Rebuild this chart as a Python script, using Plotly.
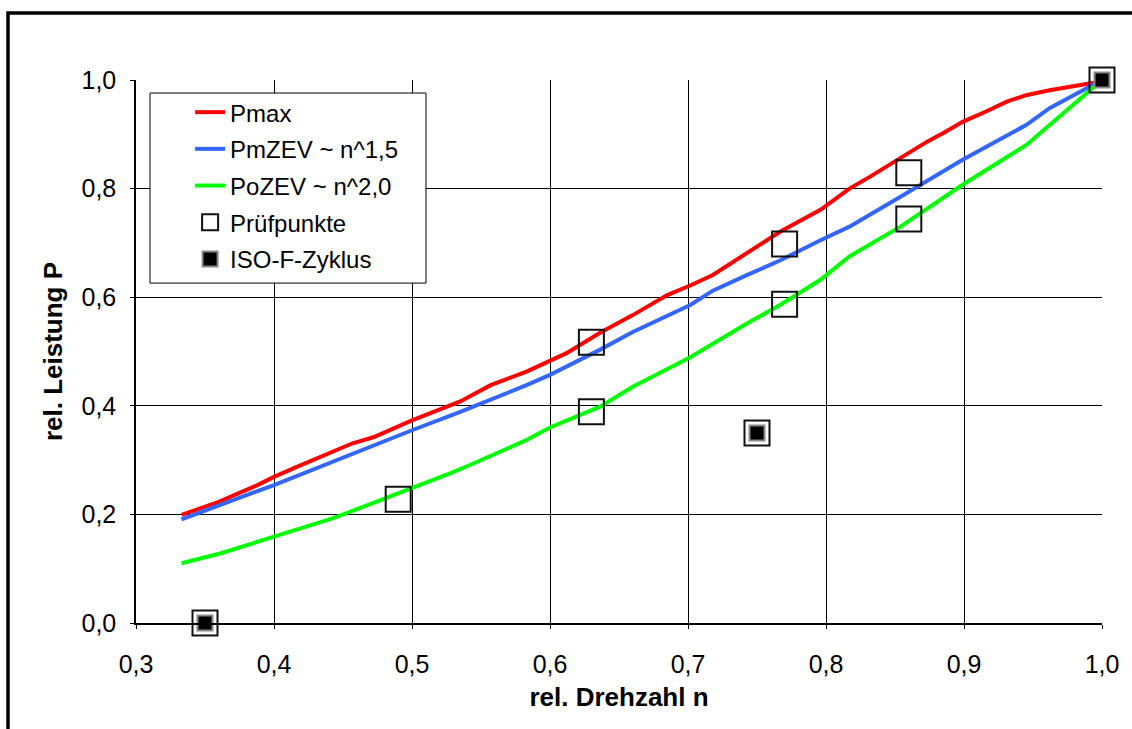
import plotly.graph_objects as go

# ---- data ----
red_n = [0.333, 0.360, 0.388, 0.400, 0.417, 0.457, 0.472, 0.500, 0.535, 0.557, 0.583, 0.600,
         0.612, 0.636, 0.660, 0.685, 0.702, 0.718, 0.743, 0.767, 0.796, 0.817, 0.832, 0.854,
         0.873, 0.887, 0.899, 0.916, 0.931, 0.945, 0.962, 0.994, 1.000]
red_p = [0.199, 0.223, 0.254, 0.269, 0.288, 0.331, 0.342, 0.373, 0.408, 0.438, 0.463, 0.484,
         0.497, 0.534, 0.567, 0.604, 0.622, 0.641, 0.681, 0.721, 0.761, 0.800, 0.822, 0.856,
         0.886, 0.905, 0.923, 0.942, 0.960, 0.972, 0.981, 0.995, 1.000]

blue_n = [0.333, 0.400, 0.500, 0.535, 0.583, 0.600, 0.636, 0.660, 0.702, 0.718, 0.743, 0.767,
          0.796, 0.817, 0.854, 0.899, 0.945, 0.962, 1.000]
blue_p = [0.191, 0.254, 0.355, 0.389, 0.438, 0.457, 0.503, 0.536, 0.586, 0.612, 0.641, 0.668,
          0.705, 0.730, 0.785, 0.853, 0.917, 0.948, 1.000]

green_n = [0.333, 0.361, 0.400, 0.443, 0.474, 0.500, 0.528, 0.542, 0.583, 0.600, 0.636, 0.660,
           0.702, 0.743, 0.767, 0.796, 0.817, 0.854, 0.899, 0.945, 0.962, 1.000]
green_p = [0.110, 0.128, 0.159, 0.193, 0.223, 0.248, 0.276, 0.291, 0.337, 0.360, 0.398, 0.435,
           0.490, 0.552, 0.586, 0.632, 0.675, 0.730, 0.807, 0.880, 0.917, 1.000]

pp_n = [0.35, 0.49, 0.63, 0.63, 0.75, 0.77, 0.77, 0.86, 0.86, 1.00]
pp_p = [0.00, 0.228, 0.517, 0.389, 0.350, 0.698, 0.587, 0.829, 0.744, 1.00]

iso_n = [0.35, 0.75, 1.00]
iso_p = [0.00, 0.35, 1.00]

x_ticks = [0.3, 0.4, 0.5, 0.6, 0.7, 0.8, 0.9, 1.0]
y_ticks = [0.0, 0.2, 0.4, 0.6, 0.8, 1.0]

FONT = "Liberation Sans, Arial, sans-serif"

fig = go.Figure()
fig.add_trace(go.Scatter(x=red_n, y=red_p, mode="lines", name="Pmax", legendgroup="a",
                         line=dict(color="#FF0000", width=4)))
fig.add_trace(go.Scatter(x=blue_n, y=blue_p, mode="lines", name="PmZEV ~ n^1,5", legendgroup="b",
                         line=dict(color="#3366FF", width=4)))
fig.add_trace(go.Scatter(x=green_n, y=green_p, mode="lines", name="PoZEV ~ n^2,0", legendgroup="c",
                         line=dict(color="#00FF00", width=4)))
fig.add_trace(go.Scatter(x=pp_n, y=pp_p, mode="markers", name="Prüfpunkte", legendgroup="d",
                         cliponaxis=False,
                         marker=dict(symbol="square-open", size=25, color="#111111",
                                     line=dict(width=2, color="#111111"))))
fig.add_trace(go.Scatter(x=iso_n, y=iso_p, mode="markers", name="ISO-F-Zyklus", legendgroup="e",
                         cliponaxis=False,
                         marker=dict(symbol="square", size=15, color="#000000",
                                     line=dict(width=2, color="#888888"))))

# legend box
fig.add_shape(type="rect", xref="paper", yref="paper", x0=0.0145, x1=0.3002, y0=0.626, y1=0.976,
              fillcolor="white", line=dict(color="black", width=1), layer="above")
# outer frame (cropped)
fig.add_shape(type="rect", xref="paper", yref="paper", x0=-0.1325, x1=1.06, y0=-0.25, y1=1.1234,
              fillcolor="rgba(0,0,0,0)", line=dict(color="black", width=3.5), layer="above")

axis_common = dict(showgrid=True, gridcolor="black", gridwidth=1, showline=True, linecolor="black",
                   linewidth=1.5, ticks="outside", ticklen=4, tickcolor="black", zeroline=False,
                   tickfont=dict(family=FONT, size=25, color="black"), tickformat=".1f")

fig.update_xaxes(range=[0.3, 1.0], tickvals=x_ticks, ticklabelstandoff=14,
                 title=dict(text="<b>rel. Drehzahl n</b>", font=dict(family=FONT, size=26, color="black"),
                            standoff=11),
                 **axis_common)
fig.update_yaxes(range=[0.0, 1.0], tickvals=y_ticks, ticklabelstandoff=9,
                 title=dict(text="<b>rel. Leistung P</b>", font=dict(family=FONT, size=26, color="black"),
                            standoff=11),
                 **axis_common)

fig.update_layout(
    width=1132, height=729,
    margin=dict(l=136, r=30, t=80, b=106),
    paper_bgcolor="white", plot_bgcolor="white",
    separators=", ",
    font=dict(family=FONT, color="black"),
    showlegend=True,
    legend=dict(x=0.056, y=0.9815, xanchor="left", yanchor="top", bgcolor="rgba(0,0,0,0)",
                borderwidth=0, traceorder="grouped", tracegroupgap=2.5,
                font=dict(family=FONT, size=24, color="black")),
)

fig.write_html("out.html")
